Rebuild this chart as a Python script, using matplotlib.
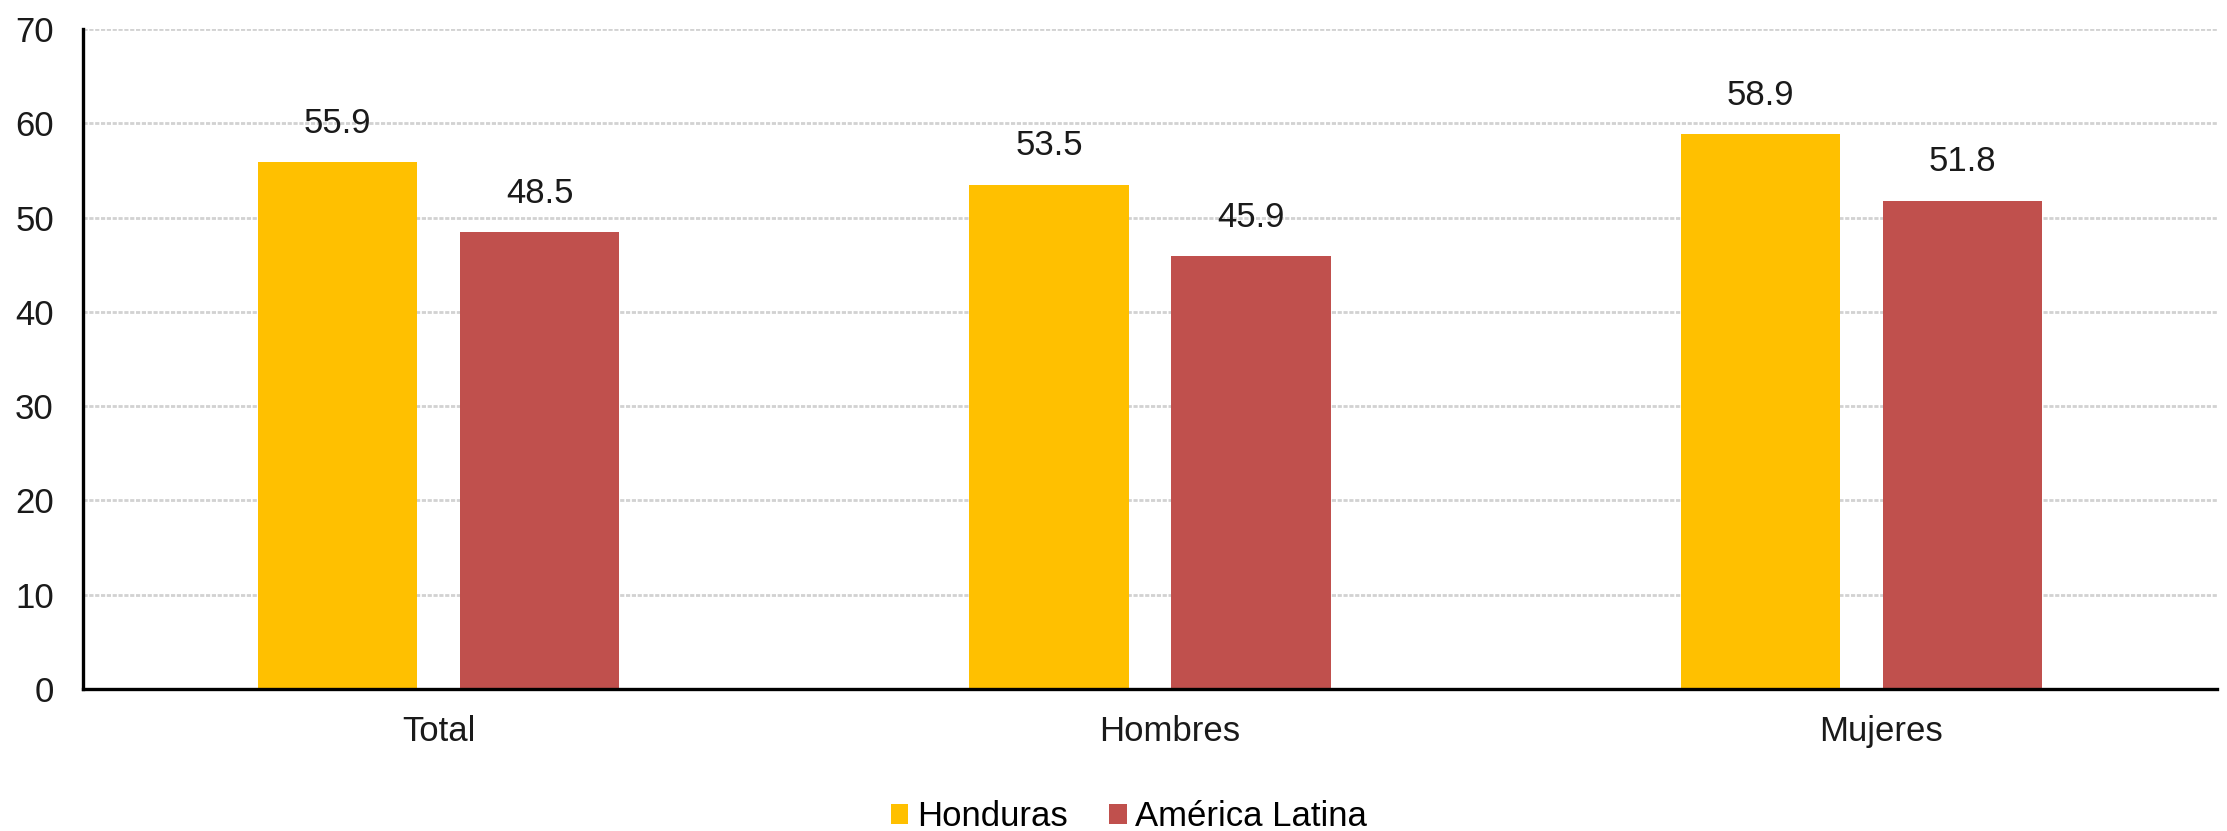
import matplotlib.pyplot as plt
import matplotlib.transforms as mtransforms
import numpy as np

plt.rcParams['font.family'] = ['Liberation Sans', 'DejaVu Sans']

# Data
categories = ['Total', 'Hombres', 'Mujeres']
honduras = [55.9, 53.5, 58.9]
america_latina = [48.5, 45.9, 51.8]
series_names = ['Honduras', 'América Latina']
colors = ['#FFC000', '#C0504D']

fig = plt.figure(figsize=(22.27, 8.31), dpi=100)
ax = fig.add_axes([0.0373, 0.171, 0.9582, 0.794])

x = np.arange(len(categories))
w = 0.224
off = 0.142

b1 = ax.bar(x - off, honduras, width=w, color=colors[0], label=series_names[0], zorder=3)
b2 = ax.bar(x + off, america_latina, width=w, color=colors[1], label=series_names[1], zorder=3)

for bars in (b1, b2):
    for bar in bars:
        h = bar.get_height()
        ax.annotate(f'{h:.1f}', (bar.get_x() + bar.get_width() / 2, h),
                    xytext=(0, 21), textcoords='offset points',
                    ha='center', va='baseline', fontsize=25, color='#1a1a1a')

ax.set_xlim(-0.5, 2.5)
ax.set_ylim(0, 70)
ax.set_yticks(range(0, 71, 10))
ax.set_xticks(x)
ax.set_xticklabels(categories)
ax.tick_params(axis='both', length=0, labelsize=25, colors='#1a1a1a')
ax.tick_params(axis='y', pad=21)
ax.tick_params(axis='x', pad=19)

# the source nudges the last two category labels a little to the right
shift = mtransforms.ScaledTranslation(0.2, 0, fig.dpi_scale_trans)
for lab in ax.get_xticklabels()[1:]:
    lab.set_transform(lab.get_transform() + shift)

ax.grid(axis='y', color='#d2d2d2', linestyle=(0, (1.5, 0.6)), linewidth=2.0, zorder=0)
ax.set_axisbelow(True)

for s in ['top', 'right']:
    ax.spines[s].set_visible(False)
for s in ['left', 'bottom']:
    ax.spines[s].set_color('black')
    ax.spines[s].set_linewidth(2.4)
    ax.spines[s].set_zorder(4)

fig.legend(loc='center', bbox_to_anchor=(0.507, 0.017), ncol=2, frameon=False,
           fontsize=25, handlelength=0.5, handleheight=0.5, handletextpad=0.25,
           columnspacing=1.2)

fig.savefig('out.png', dpi=100)
